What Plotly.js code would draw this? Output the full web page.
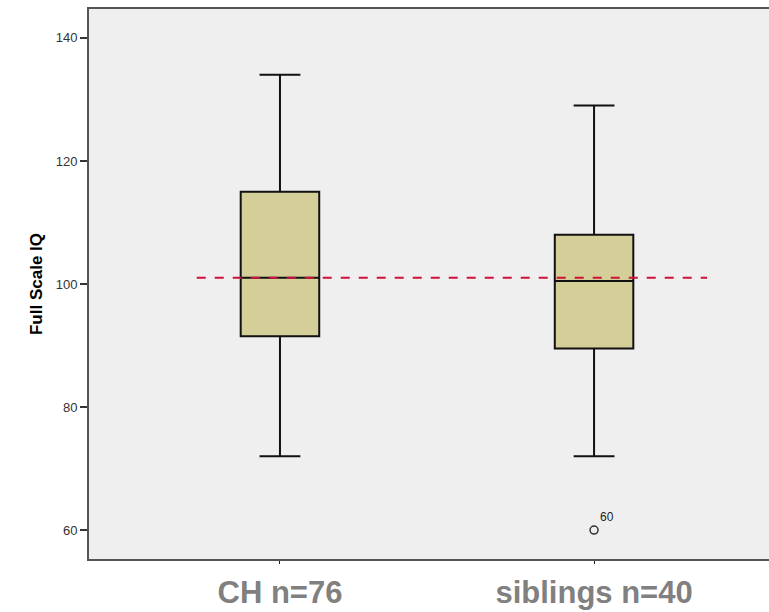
<!DOCTYPE html>
<html>
<head>
<meta charset="utf-8">
<script src="https://cdn.plot.ly/plotly-3.0.1.min.js"></script>
<style>html,body{margin:0;padding:0;background:#fff;}#chart{width:769px;height:612px;}</style>
</head>
<body>
<div id="chart"></div>
<script>
const categories = ['CH n=76', 'siblings n=40'];
const q1Values = [91.5, 89.5];
const medianValues = [101, 100.5];
const q3Values = [115, 108];
const lowerWhiskers = [72, 72];
const upperWhiskers = [134, 129];
const outlierCategory = ['siblings n=40'];
const outlierValues = [60];
const outlierLabels = ['60'];
const referenceValue = 101;
const yTicks = [60, 80, 100, 120, 140];

const boxTrace = {
  type: 'box',
  x: categories,
  q1: q1Values,
  median: medianValues,
  q3: q3Values,
  lowerfence: lowerWhiskers,
  upperfence: upperWhiskers,
  boxpoints: false,
  width: 0.25,
  whiskerwidth: 0.52,
  fillcolor: '#d4cf99',
  line: {color: '#111111', width: 2},
  hoverinfo: 'skip',
  showlegend: false
};

const outlierTrace = {
  type: 'scatter',
  mode: 'markers+text',
  x: outlierCategory,
  y: outlierValues,
  text: outlierLabels,
  textposition: 'top right',
  textfont: {family: 'Liberation Sans, Arial, sans-serif', size: 12, color: '#222'},
  marker: {symbol: 'circle-open', size: 8, color: '#333', line: {width: 1.5, color: '#333'}},
  cliponaxis: false,
  showlegend: false,
  hoverinfo: 'skip'
};

const layout = {
  width: 769,
  height: 612,
  margin: {l: 89, r: 0, t: 9, b: 53},
  paper_bgcolor: '#ffffff',
  plot_bgcolor: '#efefef',
  showlegend: false,
  font: {family: 'Liberation Sans, Arial, sans-serif'},
  xaxis: {
    type: 'category',
    range: [-0.608, 1.557],
    showgrid: false,
    zeroline: false,
    showline: true,
    mirror: true,
    linecolor: '#555555',
    linewidth: 2,
    ticks: 'outside',
    ticklen: 3,
    tickwidth: 1,
    tickcolor: '#222',
    tickfont: {family: 'Liberation Sans, Arial, sans-serif', size: 31, color: '#808080', weight: 'bold'},
    ticklabelstandoff: 2
  },
  yaxis: {
    range: [55.3, 144.7],
    tickvals: yTicks,
    showgrid: false,
    zeroline: false,
    showline: true,
    linecolor: '#555555',
    linewidth: 2,
    ticks: 'outside',
    ticklen: 7,
    tickwidth: 2,
    tickcolor: '#333',
    tickfont: {family: 'Liberation Sans, Arial, sans-serif', size: 13, color: '#333'},
    title: {text: 'Full Scale IQ', font: {family: 'Liberation Sans, Arial, sans-serif', size: 17, color: '#000', weight: 'bold'}, standoff: 9}
  },
  shapes: [{
    type: 'line',
    xref: 'x', yref: 'y',
    x0: -0.265, x1: 1.36,
    y0: referenceValue, y1: referenceValue,
    line: {color: '#d0103a', width: 2, dash: 'dash'},
    layer: 'above'
  }]
};

Plotly.newPlot('chart', [boxTrace, outlierTrace], layout, {staticPlot: true, displayModeBar: false});
</script>
</body>
</html>
